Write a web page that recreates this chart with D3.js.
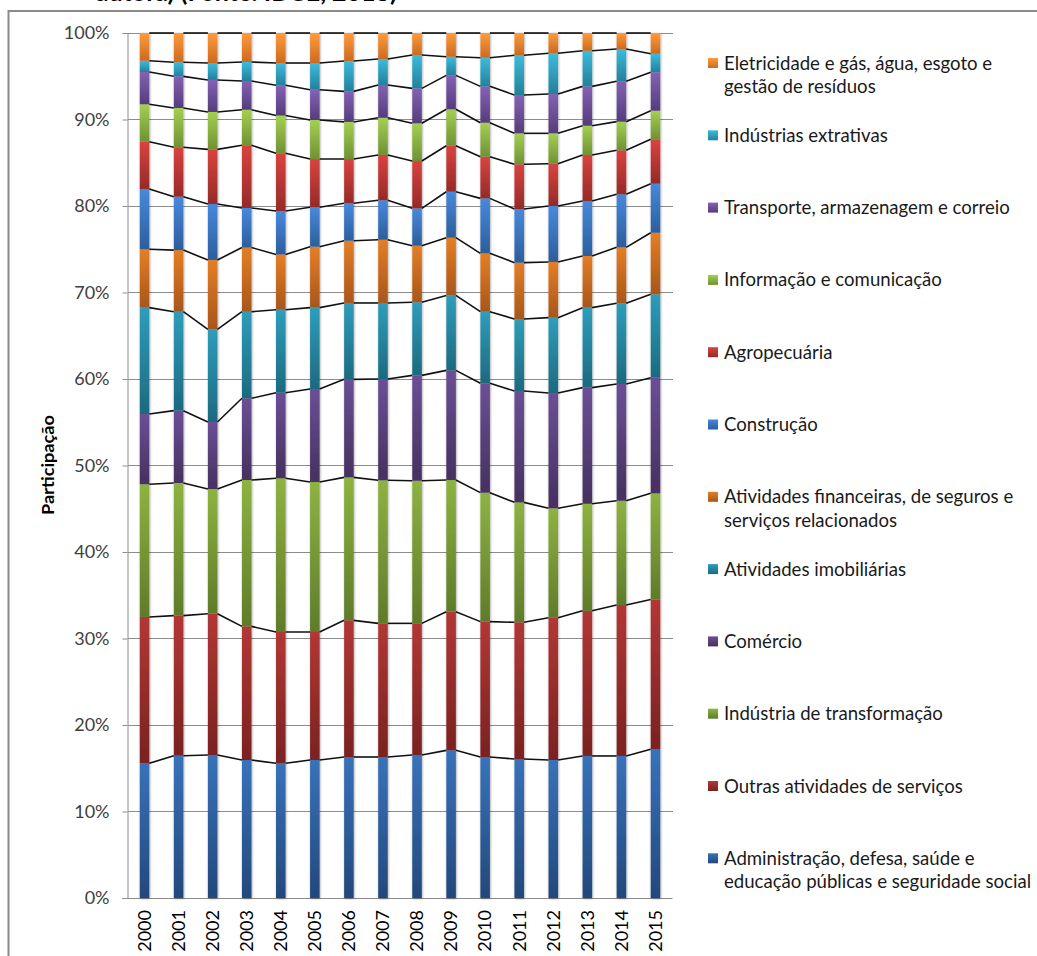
<!DOCTYPE html>
<html><head><meta charset="utf-8">
<script src="https://cdn.jsdelivr.net/npm/d3@7"></script>
<style>
body{margin:0;background:#fff;}
svg{display:block;font-family:Lato,'Open Sans',sans-serif;}
</style>
</head><body>
<svg id="chart" width="1037" height="956"></svg>
<script>
// ---------- DATA (participação %, bottom series first) ----------
const years = ["2000","2001","2002","2003","2004","2005","2006","2007","2008","2009","2010","2011","2012","2013","2014","2015"];

const administracao = [15.57,16.45,16.53,15.95,15.57,15.95,16.30,16.30,16.53,17.07,16.30,16.07,15.95,16.42,16.42,17.19];
const outrasServicos = [16.92,16.19,16.34,15.45,15.18,14.80,15.80,15.45,15.22,16.03,15.65,15.80,16.45,16.78,17.45,17.31];
const industriaTransformacao = [15.34,15.34,14.41,16.92,17.77,17.34,16.53,16.54,16.49,15.22,14.91,13.87,12.65,12.38,12.06,12.28];
const comercio = [8.12,8.36,7.75,9.45,9.90,10.75,11.33,11.71,12.18,12.68,12.64,12.87,13.33,13.42,13.49,13.37];
const imobiliarias = [12.30,11.44,10.71,10.01,9.59,9.41,8.83,8.79,8.45,8.66,8.28,8.33,8.71,9.25,9.33,9.64];
const financeiras = [6.75,7.12,8.02,7.42,6.39,7.05,7.20,7.31,6.54,6.68,6.75,6.51,6.44,5.97,6.47,7.12];
const construcao = [6.97,6.18,6.47,4.57,5.02,4.55,4.32,4.56,4.32,5.31,6.35,6.20,6.47,6.36,6.13,5.67];
const agropecuaria = [5.46,5.71,6.32,7.25,6.67,5.58,5.12,5.24,5.47,5.32,4.82,5.17,4.89,5.32,5.09,5.13];
const informacao = [4.33,4.54,4.32,4.11,4.37,4.52,4.29,4.30,4.36,4.21,3.93,3.58,3.51,3.38,3.31,3.31];
const transporte = [3.73,3.66,3.70,3.32,3.49,3.49,3.53,3.79,4.04,3.92,4.20,4.43,4.55,4.55,4.68,4.44];
const extrativas = [1.31,1.62,1.96,2.20,2.58,3.09,3.51,3.00,3.86,2.16,3.31,4.59,4.70,4.12,3.72,2.14];
const eletricidade = [3.20,3.39,3.47,3.35,3.47,3.47,3.24,3.01,2.54,2.74,2.86,2.58,2.35,2.05,1.85,2.40];

const seriesNames = [
  "Administração, defesa, saúde e\neducação públicas e seguridade social",
  "Outras atividades de serviços",
  "Indústria de transformação",
  "Comércio",
  "Atividades imobiliárias",
  "Atividades financeiras, de seguros e\nserviços relacionados",
  "Construção",
  "Agropecuária",
  "Informação e comunicação",
  "Transporte, armazenagem e correio",
  "Indústrias extrativas",
  "Eletricidade e gás, água, esgoto e\ngestão de resíduos"
];
const seriesValues = [administracao,outrasServicos,industriaTransformacao,comercio,imobiliarias,financeiras,
  construcao,agropecuaria,informacao,transporte,extrativas,eletricidade];

const yTicks = [0,10,20,30,40,50,60,70,80,90,100];
const yTitle = "Participação";
const titleText = "autora) (Fonte: IBGE, 2018)";

// ---------- STYLE ----------
const gradTop = ["#3872BA","#B23735","#8DB340","#6B4F96","#2E9DBB","#E47E26",
                 "#4789DC","#D9433F","#A4CF52","#8462B3","#3DBBDC","#FF9B3C"];
const gradBot = ["#23487C","#7A2221","#5F7B2A","#45305F","#1C6A7F","#A8561A",
                 "#2C5E9C","#952A28","#6F9232","#553C7C","#22819B","#CB6A1E"];

const svg = d3.select("#chart");
const defs = svg.append("defs");
seriesNames.forEach((n,i)=>{
  const g = defs.append("linearGradient").attr("id","g"+i)
    .attr("x1",0).attr("y1",0).attr("x2",0).attr("y2",1);
  g.append("stop").attr("offset","0%").attr("stop-color",gradTop[i]);
  g.append("stop").attr("offset","100%").attr("stop-color",gradBot[i]);
});
const f = defs.append("filter").attr("id","sh").attr("x","-60%").attr("y","-5%").attr("width","220%").attr("height","110%");
f.append("feDropShadow").attr("dx",0.6).attr("dy",0.6).attr("stdDeviation",1.3)
  .attr("flood-color","#000").attr("flood-opacity",0.38);

// frame
svg.append("path").attr("d","M1040,11H8.5V960").attr("fill","none").attr("stroke","#8a8a8a").attr("stroke-width",2);
// title remnant (cut off at the top edge, as in the reference)
svg.append("text").attr("x",397).attr("y",1).attr("text-anchor","end")
  .attr("font-weight","bold").attr("font-size",25).attr("fill","#000").text(titleText);

// ---------- SCALES ----------
const plotL = 127.5, plotR = 672.5, plotT = 33, plotB = 898;
const x = d3.scaleBand().domain(years).range([plotL,plotR]).paddingInner(0.72).paddingOuter(0.36);
const y = d3.scaleLinear().domain([0,100]).range([plotB,plotT]);

const keys = seriesNames.map((d,i)=>"s"+i);
const table = years.map((yr,j)=>{
  const row = {year:yr};
  seriesValues.forEach((arr,i)=>row["s"+i]=arr[j]);
  return row;
});
const stack = d3.stack().keys(keys).offset(d3.stackOffsetExpand);
const layers = stack(table);
const pct = v=>v*100;

// gridlines
svg.append("g").selectAll("line").data(yTicks.filter(t=>t>0)).join("line")
  .attr("x1",plotL).attr("x2",plotR).attr("y1",d=>y(d)).attr("y2",d=>y(d))
  .attr("stroke","#8c8c8c").attr("stroke-width",1).attr("shape-rendering","crispEdges");

// y axis
const yAxis = d3.axisLeft(y).tickValues(yTicks).tickFormat(d=>d+"%").tickSize(5).tickPadding(13);
const ya = svg.append("g").attr("transform",`translate(${plotL},0)`).call(yAxis);
ya.select(".domain").attr("stroke","#8c8c8c");
ya.selectAll(".tick line").attr("stroke","#8c8c8c");
ya.selectAll(".tick text").attr("font-size",18).attr("fill","#404040").attr("font-family","Lato,'Open Sans',sans-serif");

// x axis
const xAxis = d3.axisBottom(x).tickSize(0).tickPadding(0);
const xa = svg.append("g").attr("transform",`translate(0,${plotB})`).call(xAxis);
xa.select(".domain").attr("stroke","#8c8c8c").attr("d",`M${plotL-5},0.5H${plotR}`);
xa.selectAll(".tick text").attr("font-size",18).attr("fill","#000")
  .attr("font-family","Lato,'Open Sans',sans-serif")
  .attr("transform","rotate(-90)").attr("text-anchor","end")
  .attr("x",-12).attr("y",0).attr("dy","0.35em");

// y title
svg.append("text").attr("transform","translate(48,465) rotate(-90)")
  .attr("text-anchor","middle").attr("dy","0.35em").attr("font-weight","bold")
  .attr("font-size",17).attr("textLength",100).attr("lengthAdjust","spacingAndGlyphs")
  .attr("fill","#000").text(yTitle);

// bars
const bw = x.bandwidth();
const cols = svg.append("g").selectAll("g").data(years).join("g").attr("filter","url(#sh)");
cols.each(function(yr,j){
  d3.select(this).selectAll("rect").data(layers).join("rect")
    .attr("x",x(yr)).attr("width",bw)
    .attr("y",L=>y(pct(L[j][1]))).attr("height",L=>y(pct(L[j][0]))-y(pct(L[j][1])))
    .attr("fill",(L,i)=>`url(#g${i})`);
});

// series lines
const segs = [];
layers.forEach(L=>{
  for(let j=0;j<years.length-1;j++){
    segs.push([[x(years[j])+bw, y(pct(L[j][1]))],[x(years[j+1]), y(pct(L[j+1][1]))]]);
  }
});
const line = d3.line();
svg.append("g").selectAll("path").data(segs).join("path")
  .attr("d",line).attr("stroke","#111").attr("stroke-width",1.6).attr("fill","none");

// legend (top = last series)
const legend = svg.append("g");
const order = d3.range(seriesNames.length).reverse();
order.forEach((si,k)=>{
  const cy = 63 + 72.3*k;
  legend.append("rect").attr("x",708).attr("y",cy-5).attr("width",10).attr("height",10)
    .attr("fill",`url(#g${si})`);
  const t = legend.append("text").attr("x",724).attr("y",cy)
    .attr("font-size",18.6).attr("fill","#1a1a1a");
  seriesNames[si].split("\n").forEach((ln,li)=>{
    t.append("tspan").attr("x",724).attr("dy",li===0?"0.35em":"23.5").text(ln);
  });
});
</script>
</body></html>
